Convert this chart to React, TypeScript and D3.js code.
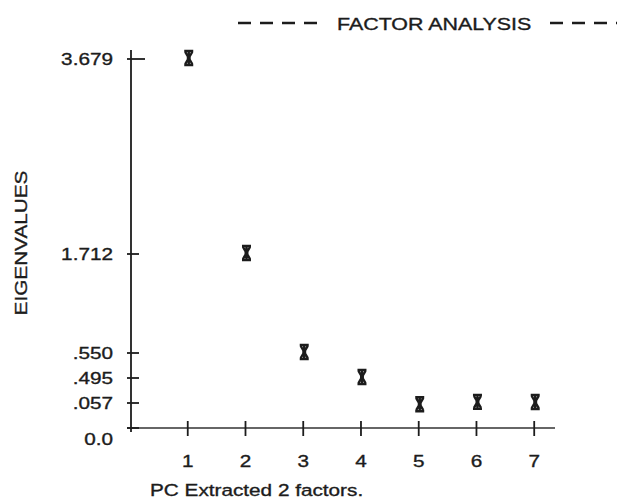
import React, { useEffect, useRef } from "react";
import * as d3 from "d3";

// scree plot data
const factors = [1, 2, 3, 4, 5, 6, 7];
const eigenvalues = [3.679, 1.712, 0.55, 0.495, 0.052, 0.06, 0.057];
const yTickValues = [0, 0.057, 0.495, 0.55, 1.712, 3.679];
const yTickLabels = ["0.0", ".057", ".495", ".550", "1.712", "3.679"];

const title = "FACTOR ANALYSIS";
const yTitle = "EIGENVALUES";
const xTitle = "PC Extracted 2 factors.";

const INK = "#1c1c1c";
const FONT = "'Liberation Sans', Arial, sans-serif";
const STRETCH = 1.22; // the printout's lettering is wide

const App = () => {
  const svgRef = useRef<SVGSVGElement>(null);

  useEffect(() => {
    const svg = d3.select(svgRef.current);
    svg.selectAll("*").remove();

    // x: evenly spaced factor numbers
    const x = d3.scaleLinear().domain([0, 7.36]).range([130, 555]);
    // y: the old printout spaces its labelled values apart, so use a piecewise scale
    const y = d3.scaleLinear()
      .domain(yTickValues)
      .range([428, 403, 378, 353, 254, 59]);

    const g = svg.append("g");

    const label = (sel: any) =>
      sel.attr("font-family", FONT).attr("font-size", 17)
        .attr("fill", INK).attr("stroke", INK).attr("stroke-width", 0.35);

    // header with dashes
    g.append("line")
      .attr("x1", 238).attr("x2", 322).attr("y1", 23).attr("y2", 23)
      .attr("stroke", INK).attr("stroke-width", 2.5)
      .attr("stroke-dasharray", "13,9");
    g.append("line")
      .attr("x1", 550).attr("x2", 620).attr("y1", 23).attr("y2", 23)
      .attr("stroke", INK).attr("stroke-width", 2.5)
      .attr("stroke-dasharray", "13,9");
    g.append("text")
      .attr("transform", `translate(337,30) scale(1.26,1)`)
      .call(label)
      .text(title);

    // axes lines
    g.append("line")
      .attr("x1", x(0) + 1).attr("x2", x(0) + 1)
      .attr("y1", 50).attr("y2", 432)
      .attr("stroke", INK).attr("stroke-width", 1.8);
    g.append("line")
      .attr("x1", 127).attr("x2", x.range()[1])
      .attr("y1", y(0)).attr("y2", y(0))
      .attr("stroke", "#333").attr("stroke-width", 1.6);

    // y ticks + labels
    const yt = g.selectAll(".yt")
      .data(yTickValues)
      .join("g")
      .attr("class", "yt");
    yt.append("line")
      .attr("x1", 127)
      .attr("x2", (d) => (d === 3.679 ? 145 : 139))
      .attr("y1", (d) => y(d)).attr("y2", (d) => y(d))
      .attr("stroke", INK).attr("stroke-width", 1.8);
    yt.append("text")
      .attr("transform", (d) => `translate(113,${y(d) + (d === 0 ? 17 : 6)}) scale(${STRETCH},1)`)
      .attr("text-anchor", "end")
      .call(label)
      .text((d, i) => yTickLabels[i]);

    // x ticks + labels
    const xt = g.selectAll(".xt")
      .data(factors)
      .join("g")
      .attr("class", "xt");
    xt.append("line")
      .attr("x1", (d) => x(d)).attr("x2", (d) => x(d))
      .attr("y1", y(0) - 7).attr("y2", y(0) + 8)
      .attr("stroke", INK).attr("stroke-width", 1.8);
    xt.append("text")
      .attr("transform", (d) => `translate(${x(d)},467) scale(${STRETCH},1)`)
      .attr("text-anchor", "middle")
      .call(label)
      .text((d) => d);

    // axis titles
    g.append("text")
      .attr("transform", `translate(150,496) scale(${STRETCH},1)`)
      .call(label)
      .text(xTitle);
    g.append("text")
      .attr("transform", `translate(27,243) rotate(-90) scale(${STRETCH},1)`)
      .attr("text-anchor", "middle")
      .call(label)
      .text(yTitle);

    // star markers
    const marker = "M-4.5,-7H4.5M-4.5,7H4.5M-3.5,-6L3.5,6M3.5,-6L-3.5,6M0,-7V7M-2,0H2";
    g.selectAll(".pt")
      .data(eigenvalues)
      .join("path")
      .attr("class", "pt")
      .attr("transform", (d, i) => `translate(${x(factors[i]) + 1},${y(d) - 1})`)
      .attr("d", marker)
      .attr("fill", "none")
      .attr("stroke", INK)
      .attr("stroke-width", 2.4);
  }, []);

  return (
    <svg
      ref={svgRef}
      width={617}
      height={501}
      style={{ position: "absolute", left: 0, top: 0, background: "#fff" }}
    ></svg>
  );
};

export default App;
